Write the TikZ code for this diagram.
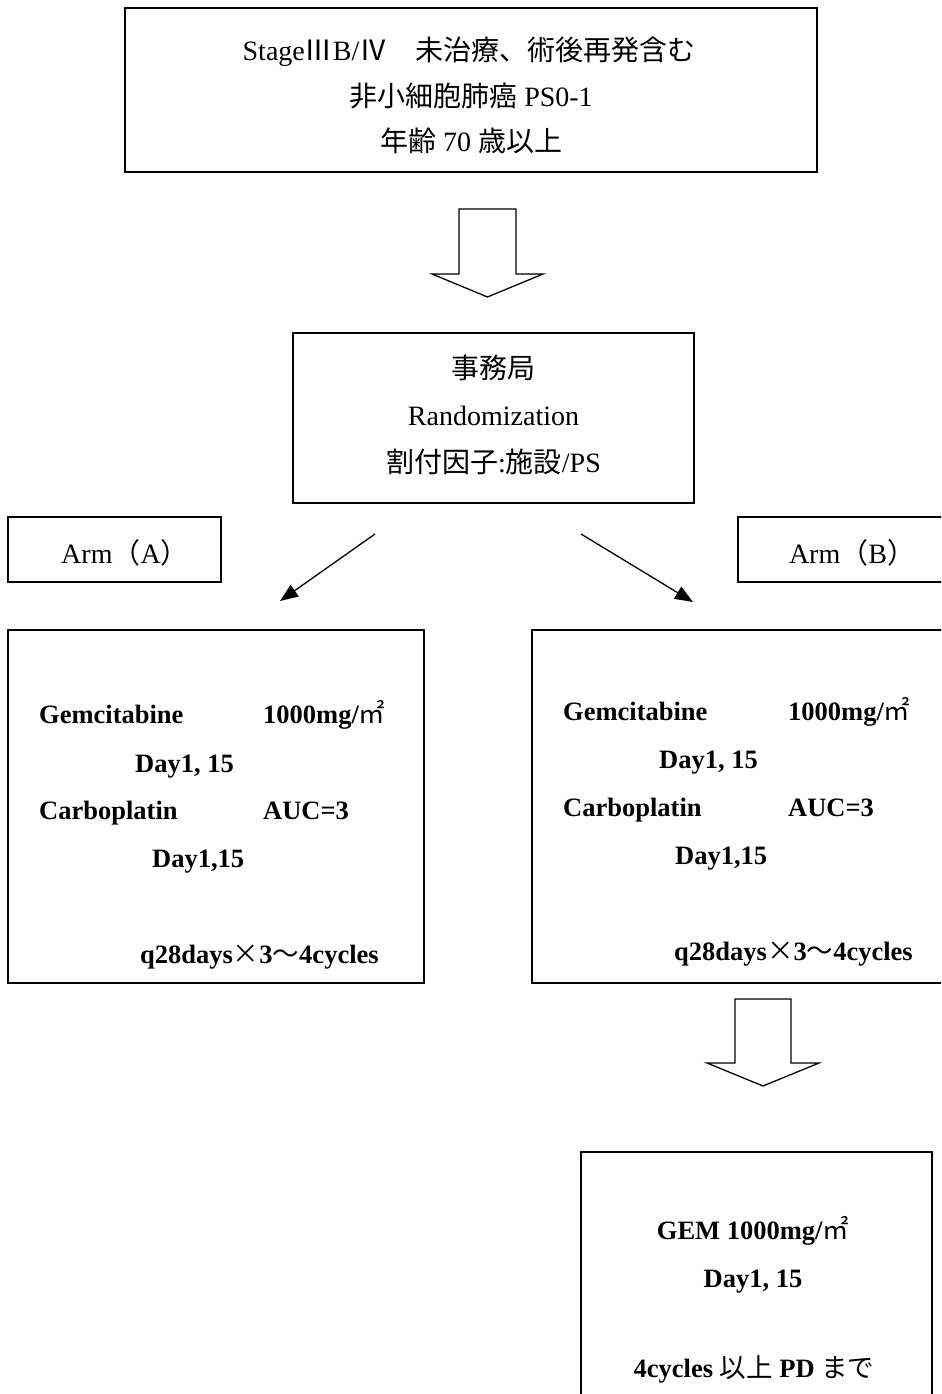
\documentclass[tikz,border=0pt]{standalone}
\usepackage{fontspec}
\setmainfont{Liberation Serif}
\newfontfamily\cjkfam{Noto Sans CJK JP}
\newcommand\cj[1]{{\cjkfam\mdseries #1}}
\usetikzlibrary{arrows.meta}
\begin{document}
\begin{tikzpicture}[x=1bp,y=-1bp,
  box/.style={draw=black, line width=1.4bp, inner sep=0, outer sep=0},
  blockarrow/.style={draw=black, line width=1.3bp, line join=miter},
  conn/.style={draw=black, line width=1.3bp, -{Triangle[length=18bp,width=14bp]}},
  txt/.style={inner sep=0, font=\fontsize{28bp}{32bp}\selectfont},
  btxt/.style={inner sep=0, font=\fontsize{26.5bp}{32bp}\selectfont\bfseries, anchor=base west},
]
\useasboundingbox (0,0) rectangle (941,1394);
\clip (0,0) rectangle (941,1394);

% boxes
\node[box, minimum width=692bp, minimum height=164bp] (elig) at (471,90) {};
\node[box, minimum width=401bp, minimum height=170bp] (rand) at (493.5,418) {};
\node[box, minimum width=213bp, minimum height=65bp] (armA) at (114.5,549.5) {};
\node[box, minimum width=222bp, minimum height=65bp] (armB) at (849,549.5) {};
\node[box, minimum width=416bp, minimum height=353bp] (boxA) at (216,806.5) {};
\node[box, minimum width=428bp, minimum height=353bp] (boxB) at (746,806.5) {};
\node[box, minimum width=351bp, minimum height=258bp] (final) at (756.5,1281) {};

% block arrows
\draw[blockarrow] (459,209) -- (516,209) -- (516,274) -- (543,274) -- (487.5,297)
  -- (432,274) -- (459,274) -- cycle;
\draw[blockarrow] (735,999) -- (791,999) -- (791,1063) -- (819,1063) -- (763,1086)
  -- (707,1063) -- (735,1063) -- cycle;

% diagonal connectors
\coordinate (la0) at (375,534);
\coordinate (la1) at (280,601);
\coordinate (ra0) at (581,534);
\coordinate (ra1) at (693,602);
\draw[conn] (la0) -- (la1);
\draw[conn] (ra0) -- (ra1);

% eligibility text
\node[txt, anchor=base] (e1) at (469,61) {Stage\cj{Ⅲ}B/\cj{Ⅳ　未治療、術後再発含む}};
\node[txt, anchor=base] (e2) at (471,107) {\cj{非小細胞肺癌} PS0-1};
\node[txt, anchor=base] (e3) at (471,152) {\cj{年齢} 70 \cj{歳以上}};

% randomization text
\node[txt, anchor=base] (r1) at (493.5,378) {\cj{事務局}};
\node[txt, anchor=base] (r2) at (493.5,425) {Randomization};
\node[txt, anchor=base] (r3) at (493.5,472) {\cj{割付因子}:\cj{施設}/PS};

% arm labels
\node[txt, anchor=base] (al) at (125,563) {Arm\cj{（}A\cj{）}};
\node[txt, anchor=base] (bl) at (852,563) {Arm\cj{（}B\cj{）}};

% arm A regimen
\node[btxt] (a1) at (39,723) {Gemcitabine};
\node[btxt] (a2) at (263,723) {1000mg/\cj{㎡}};
\node[btxt] (a3) at (135,772) {Day1, 15};
\node[btxt] (a4) at (39,819) {Carboplatin};
\node[btxt] (a5) at (263,819) {AUC=3};
\node[btxt] (a6) at (152,867) {Day1,15};
\node[btxt] (a7) at (140,963) {q28days\cj{×}3\cj{～}4cycles};

% arm B regimen
\node[btxt] (b1) at (563,720) {Gemcitabine};
\node[btxt] (b2) at (788,720) {1000mg/\cj{㎡}};
\node[btxt] (b3) at (659,768) {Day1, 15};
\node[btxt] (b4) at (563,816) {Carboplatin};
\node[btxt] (b5) at (788,816) {AUC=3};
\node[btxt] (b6) at (675,864) {Day1,15};
\node[btxt] (b7) at (674,960) {q28days\cj{×}3\cj{～}4cycles};

% maintenance
\node[btxt, anchor=base] (f1) at (753,1239) {GEM 1000mg/\cj{㎡}};
\node[btxt, anchor=base] (f2) at (753,1287) {Day1, 15};
\node[btxt, anchor=base] (f3) at (754,1377) {4cycles \cj{以上} PD \cj{まで}};
\end{tikzpicture}
\end{document}
